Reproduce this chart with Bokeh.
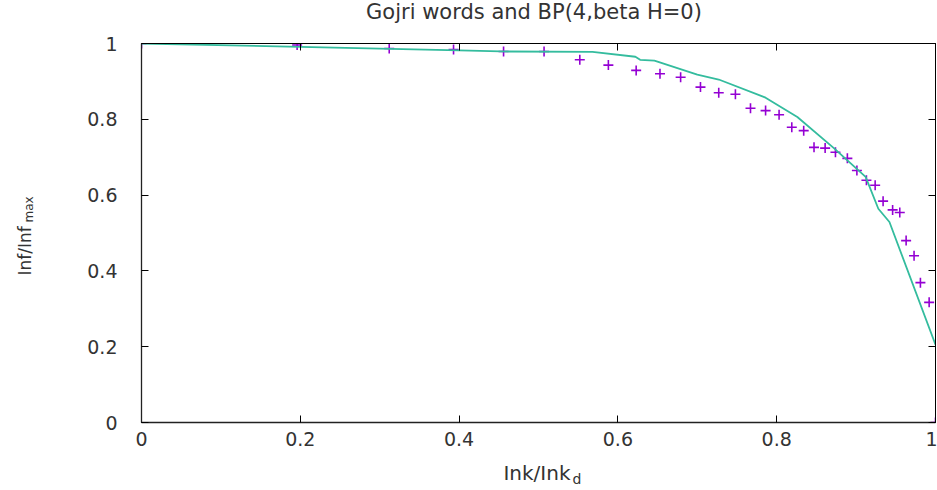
from bokeh.plotting import figure
from bokeh.models import Range1d, LinearAxis, FixedTicker, Label
from bokeh.embed import file_html
from bokeh.resources import INLINE

# observed data (purple crosses)
obs_x = [0.0, 0.196, 0.312, 0.393, 0.456, 0.507, 0.552, 0.588, 0.623, 0.653, 0.679,
         0.704, 0.727, 0.748, 0.767, 0.786, 0.803, 0.819, 0.834, 0.847, 0.861, 0.874,
         0.889, 0.901, 0.913, 0.924, 0.934, 0.946, 0.955, 0.963, 0.973, 0.981, 0.992, 1.0]
obs_y = [1.0, 0.996, 0.987, 0.984, 0.979, 0.979, 0.957, 0.943, 0.929, 0.920, 0.911,
         0.885, 0.870, 0.866, 0.829, 0.823, 0.812, 0.779, 0.770, 0.726, 0.724, 0.713,
         0.697, 0.665, 0.639, 0.626, 0.584, 0.561, 0.554, 0.480, 0.440, 0.369, 0.317, 0.0]

# model curve BP(4, beta H=0)
fit_x = [0.0, 0.2, 0.4, 0.452, 0.568, 0.622, 0.628, 0.646, 0.700, 0.727, 0.786,
         0.826, 0.872, 0.912, 0.928, 0.942, 1.0]
fit_y = [1.0, 0.991, 0.982, 0.979, 0.978, 0.965, 0.957, 0.955, 0.918, 0.905, 0.857,
         0.806, 0.724, 0.648, 0.564, 0.529, 0.205]

tick_vals = [0.0, 0.2, 0.4, 0.6, 0.8, 1.0]
tick_labels = ["0", "0.2", "0.4", "0.6", "0.8", "1"]

title_text = "Gojri words and BP(4,beta H=0)"
xlabel_main, xlabel_sub = "Ink/Ink", "d"
ylabel_main, ylabel_sub = "Inf/Inf", "max"

FONT = "DejaVu Sans"
TXT = "#333333"

p = figure(width=937, height=490, output_backend="svg", toolbar_location=None,
           x_range=Range1d(0, 1), y_range=Range1d(0, 1),
           min_border_left=141, min_border_right=2, min_border_top=43,
           min_border_bottom=68, background_fill_color="white",
           border_fill_color="white")
p.outline_line_color = "black"
p.outline_line_width = 1
p.xgrid.visible = False
p.ygrid.visible = False

overrides = dict(zip(tick_vals, tick_labels))
for ax in (p.xaxis[0], p.yaxis[0]):
    ax.ticker = FixedTicker(ticks=tick_vals)
    ax.major_label_overrides = overrides
    ax.major_tick_in = 7
    ax.major_tick_out = 0
    ax.minor_tick_in = 0
    ax.minor_tick_out = 0
    ax.axis_line_color = "#222222"
    ax.axis_line_width = 1.3
    ax.major_tick_line_color = "black"
    ax.major_label_text_font = FONT
    ax.major_label_text_font_size = "19px"
    ax.major_label_text_color = TXT
p.yaxis[0].major_label_standoff = 24
p.xaxis[0].major_label_standoff = 9

for loc in ("above", "right"):
    ax = LinearAxis(ticker=FixedTicker(ticks=tick_vals),
                    major_label_overrides={v: "" for v in tick_vals},
                    major_label_text_font_size="1px", major_label_standoff=0,
                    major_tick_in=7, major_tick_out=0,
                    minor_tick_in=0, minor_tick_out=0,
                    axis_line_color="black", major_tick_line_color="black")
    p.add_layout(ax, loc)

p.scatter(obs_x, obs_y, marker="cross", size=10, line_color="#9400d3",
          line_width=1.6)
p.line(fit_x, fit_y, line_color="#34bc9e", line_width=1.8)


def lab(text, x, y, size, align="left", angle=0.0):
    return Label(x=x, y=y, text=text, text_align=align, text_baseline="middle",
                 angle=angle, text_font=FONT, text_font_size=size,
                 text_color=TXT)


# title and axis labels placed in side panels (positions via the plot scales)
p.add_layout(lab(title_text, 0.4943, 1.0818, "21px", "center"), "above")
p.add_layout(lab(xlabel_main, 0.5403, -0.1320, "20px", "right"), "below")
p.add_layout(lab(xlabel_sub, 0.5428, -0.1490, "14px", "left"), "left")
p.add_layout(lab(ylabel_main, -0.1461, 0.3879, "17px", "left", 1.5708), "left")
p.add_layout(lab(ylabel_sub, -0.1411, 0.5277, "12px", "left", 1.5708), "left")

open("out.html", "w").write(file_html(p, INLINE))
